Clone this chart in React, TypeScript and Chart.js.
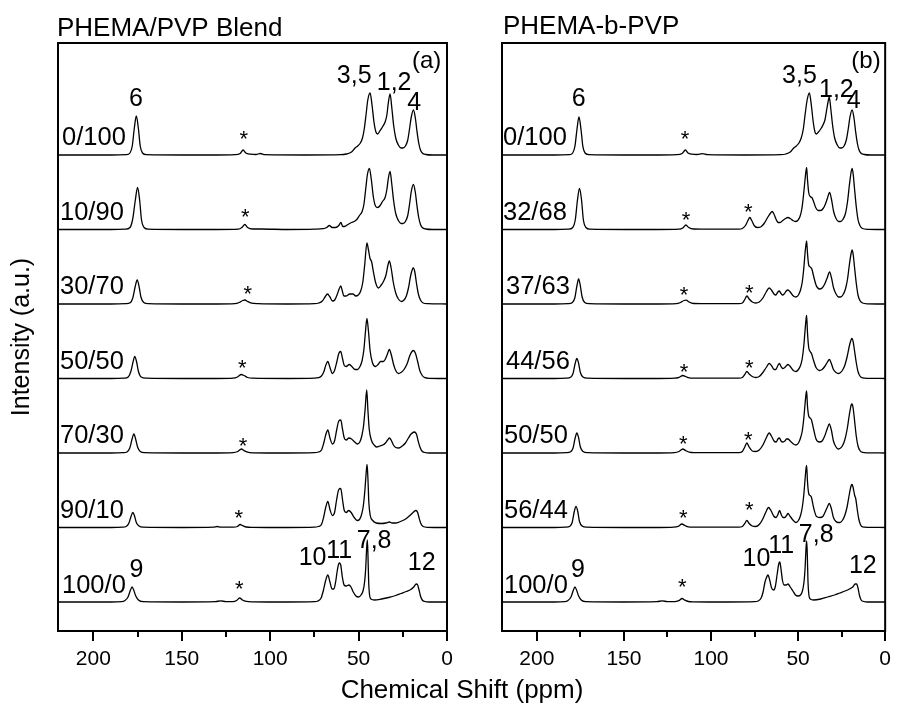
import React, { useEffect, useRef } from "react";
import { Chart, registerables } from "chart.js";
Chart.register(...registerables);

type Pt = [number, number];
const FONT = "'Liberation Sans', Arial, Helvetica, sans-serif";

// x axis (ppm)
const xMajorTicks = [200, 150, 100, 50, 0];
const xMinorTicks = [175, 125, 75, 25];

// ---------------- Panel (a): PHEMA/PVP Blend ----------------
const blendLabels = ["0/100", "10/90", "30/70", "50/50", "70/30", "90/10", "100/0"];
const blendOffsets = [476, 401.5, 327, 252.5, 178, 103.5, 29];

const blend0_100: Pt[] = [[220,0],[190,0],[181.3,0.3],[179.3,2],[178,9],[176.9,26],[175.7,39],[174.5,26],[173.5,9],[172.2,2],[170,0.3],[150,0],[130,0],[120,0.3],[117,1.5],[115.3,5],[113.8,2],[111,0.8],[108,0.5],[105.6,1.5],[103,0.3],[80,0],[60,0.3],[57,1],[54,3],[52,7],[50.5,9],[49,12],[47.8,17],[46.8,26],[45.8,40],[44.8,55],[43.5,62],[42.4,50],[41.3,33],[40.2,23],[39.2,21],[38,24],[36.5,28],[35,33],[34,40],[33.2,52],[32.2,61],[31.2,47],[30.2,30],[29,17],[27.5,10],[26,7],[25,7],[23.5,9],[22.2,15],[21.2,26],[20.2,38],[19,45],[17.9,37],[17,24],[16,12],[15,5],[14,2],[12,0.5],[8,0],[0,0]];
const blend10_90: Pt[] = [[220,0],[190,0],[181.8,0.3],[179.3,2],[177.8,10],[176.3,29],[175,42],[173.8,29],[172.8,10],[171.3,2],[169,0.3],[150,0],[130,0],[118,0.3],[116,2],[114.3,5],[112.8,2],[110,0.5],[105,0.5],[90,0],[75,0.3],[70,0.8],[68,2],[66.5,4],[65,2],[63,2],[61.2,4],[60,7],[59,3],[58,3],[56,5],[54,7],[52.5,8],[51,10],[49.5,14],[48,18],[47,25],[46,40],[45,55],[43.9,61],[42.8,50],[41.6,32],[40.3,23],[39.2,22],[37.8,24],[36.5,28],[35,32],[34,40],[33.1,52],[32.2,58],[31.2,45],[30.2,29],[29,16],[27.5,9],[26,6],[25,6],[23.5,8],[22.2,14],[21.2,25],[20.2,38],[19,45],[17.9,37],[17,24],[16,12],[15,5],[14,2],[12,0.5],[8,0],[0,0]];
const blend30_70: Pt[] = [[220,0],[190,0],[181.5,0.3],[179.2,1.2],[177.7,6],[176.4,17],[175.2,24],[174.1,17],[173.1,7],[171.5,1.5],[169,0.3],[150,0],[130,0],[120,0.3],[117.5,1.5],[115.5,3.5],[114.3,4],[112.8,2.5],[110.5,0.8],[107,0.3],[90,0],[75,0.3],[72.5,1],[70.5,3],[69,7],[67.6,10],[66.2,7],[64.8,3],[63.5,4],[62.2,9],[61,15],[60.1,18],[59.2,13],[58.3,8],[57,8],[55,10],[53.2,10],[51.6,8],[50.2,9],[48.8,13],[47.6,22],[46.5,40],[45.3,61],[44.4,54],[43.6,46],[42.6,42],[41.6,32],[40.3,21],[38.8,16],[37.2,19],[35.8,23],[34.5,29],[33.5,38],[32.6,43],[31.6,36],[30.4,22],[29,11],[27.5,5],[25.8,2.5],[24.3,4],[23,8],[21.8,16],[20.6,28],[19.5,35],[19,36],[18.2,32],[17.2,20],[16.2,10],[15,4],[13.5,1],[11,0.3],[0,0]];
const blend50_50: Pt[] = [[220,0],[190,0],[182.5,0.3],[180.3,1.5],[178.8,7],[177.5,17],[176.6,22],[175.6,17],[174.5,7],[173,1.5],[170,0.3],[150,0],[130,0],[121,0.3],[118.5,1.5],[116.3,4],[114.8,3],[112.8,1],[110,0.3],[90,0],[75,0.3],[72.8,0.8],[71,2.5],[69.6,7],[68.6,13],[67.4,17],[66.2,11],[64.8,5],[63.6,8],[62.4,16],[61.2,25],[60.1,27],[59.1,20],[58.1,13],[57,12],[55.3,14],[53.8,12],[52,9],[50.5,9],[49.2,12],[48,18],[47,29],[46.2,45],[45.3,60],[44.4,47],[43.5,28],[42.2,16],[40.5,12],[39,14],[37.5,17],[36,17],[35,19],[33.8,24],[32.6,29],[31.4,23],[30.2,14],[29,8],[27.5,5],[26,6],[24.3,9],[22.5,15],[21,23],[19.8,27],[19,28],[17.8,25],[16.6,17],[15.4,8],[14,3],[12.5,0.8],[10,0.2],[0,0]];
const blend70_30: Pt[] = [[220,0],[190,0],[183,0.3],[181,1],[179.4,5],[178.1,14],[177.1,19],[176.1,14],[175,6],[173.5,1.5],[171,0.3],[150,0],[130,0],[121,0.3],[118.3,1.5],[116.3,4],[114.9,2.5],[112.8,0.8],[110,0.2],[90,0],[75,0.3],[72.8,1],[71,3],[69.7,10],[68.6,18],[67.4,23],[66.2,15],[64.8,9],[63.6,12],[62.4,23],[61.2,32],[60.1,33],[59.1,24],[58.1,15],[57,13],[55.5,15],[54,14],[52.2,11],[50.7,9],[49.3,11],[48.2,17],[47.2,27],[46.3,44],[45.4,63],[44.7,42],[44,24],[42.8,13],[41.2,8],[39.8,6],[38,7],[36.3,8],[34.8,10],[33.6,13],[32.6,15],[31.6,13],[30.3,8],[29,5.5],[27.2,5],[25.3,7],[23.5,10],[21.8,15],[20.3,19],[18.5,21],[17.3,19],[16.3,12],[15.3,6],[14.2,2],[12.5,0.5],[10,0],[0,0]];
const blend90_10: Pt[] = [[220,0],[190,0],[183.5,0.3],[181.5,1],[180,4],[178.7,11],[177.7,15],[176.8,12],[175.7,5],[174.2,1.5],[172,0.3],[150,0],[132,0.3],[130,1],[128,0.3],[121,0.3],[118.5,1],[117,3],[115.5,1.8],[113.5,0.5],[110,0.2],[90,0],[75,0.3],[72.8,1],[71,3],[69.8,10],[68.6,20],[67.4,26],[66.2,18],[64.8,12],[63.6,15],[62.4,28],[61.2,38],[60.1,39],[59.1,28],[58.1,17],[57,15],[55.6,17],[54.2,15],[52.5,10],[50.8,7],[49.5,8],[48.3,13],[47.3,22],[46.4,38],[45.7,55],[45.2,63],[44.7,48],[44.2,25],[43.4,12],[42,7],[40,4.5],[37,4],[34.5,4.5],[32.6,5.5],[31,4.5],[29,4.5],[27,5.5],[25,7],[23,9],[21,12],[19.2,15],[17.6,17],[16.6,15],[15.7,9],[14.8,4],[13.5,1],[11,0.2],[0,0]];
const blend100_0: Pt[] = [[220,0],[190,0],[184,0.3],[182.3,1.2],[180.4,5],[179,12],[178.1,15],[177.2,12],[176,6],[174.5,2],[172,0.3],[150,0],[131,0.3],[128,1.2],[125,0.3],[121,0.3],[119,1.5],[117.3,4],[115.7,2],[113.5,0.6],[110,0.2],[90,0],[75,0.3],[73,1],[71.2,4],[70,11],[68.7,21],[67.4,27],[66.2,20],[65,13],[64,13],[62.9,21],[62,32],[61,39],[60.1,37],[59.2,25],[58.2,17],[57,16],[55.5,17],[54.3,15],[53,10],[51.5,6],[50,5],[48.6,7],[47.5,11],[46.6,20],[46,33],[45.4,55],[45.05,62],[44.7,47],[44.3,20],[43.8,7],[43,3],[41,2],[37,3],[33,4.5],[29,6.5],[26,8.5],[23,10.5],[20.5,12.5],[18.8,15],[17.4,18],[16.6,17],[15.8,12],[15,6],[14,2],[12.5,0.5],[10,0],[0,0]];
const blendTraces = [blend0_100, blend10_90, blend30_70, blend50_50, blend70_30, blend90_10, blend100_0];
const blendStarPpm = [114.9, 114.1, 112.6, 115.8, 115.4, 117.7, 117.5];

// ---------------- Panel (b): PHEMA-b-PVP ----------------
const blockLabels = ["0/100", "32/68", "37/63", "44/56", "50/50", "56/44", "100/0"];
const blockOffsets = [476, 401.5, 327, 252.5, 178, 103.5, 29];

const block0_100: Pt[] = [[220,0],[190,0],[181.3,0.3],[179.4,2],[178.1,9],[177,25],[175.8,38],[174.6,25],[173.6,9],[172.3,2],[170,0.3],[150,0],[130,0],[120,0.3],[116.6,1.5],[114.7,5],[113.2,2],[111,0.8],[108,0.5],[105,1.3],[102,0.3],[80,0],[60,0.3],[57,1],[54.5,3],[52.5,7],[51,9],[49.5,12],[48.2,17],[47,26],[46,40],[44.8,55],[43.5,62],[42.4,50],[41.3,33],[40.3,23],[39.5,21],[38.3,23],[37,26],[35.7,30],[34.6,35],[33.6,45],[32.8,53],[32.1,58],[31.2,46],[30.2,30],[29,17],[27.5,10],[26,7],[25.1,7],[23.6,9],[22.3,15],[21.2,26],[20.2,38],[19,45],[17.9,37],[17,24],[16,12],[15,5],[14,2],[12,0.5],[8,0],[0,0]];
const block32_68: Pt[] = [[220,0],[190,0],[181.8,0.3],[179.4,2],[177.9,10],[176.7,29],[175.5,41],[174.3,29],[173.3,10],[171.8,2],[169.5,0.3],[150,0],[130,0],[118.5,0.3],[116,1.8],[114.4,4.5],[112.8,2],[110,0.5],[100,0.3],[90,0.3],[84,0.3],[82,1],[80.2,4],[78.8,9],[77.7,12],[76.6,9],[75.2,4],[73.5,2],[71.5,2.5],[69.5,6],[67.5,12],[66,16],[64.9,18],[64,16],[62.6,10],[61.4,7],[60.3,7],[58.8,9],[57.2,11],[55.9,12],[54.5,11],[53,9],[51.5,8],[50.2,9],[48.9,13],[47.8,21],[46.9,34],[46,50],[45.5,58],[45.1,62],[44.6,50],[43.9,37],[43,33],[42.1,32],[41.1,28],[39.9,22],[38.5,19],[37,19],[35.6,21],[34.4,25],[33.2,31],[31.9,37],[30.8,30],[29.6,18],[28.2,11],[26.8,8],[25.6,8],[24.3,10],[22.8,16],[21.6,28],[20.5,45],[19.5,58],[19,61],[18.4,56],[17.6,41],[16.6,23],[15.6,10],[14.5,4],[13,1],[10,0.2],[0,0]];
const block37_63: Pt[] = [[220,0],[190,0],[182,0.3],[179.6,1.5],[178.2,6],[177,18],[176,25],[175,18],[174,7],[172.5,1.5],[170,0.3],[150,0],[130,0],[120,0.3],[117.5,1.5],[115.5,3.5],[114.2,3.8],[112.6,2],[110,0.5],[100,0.3],[90,0.3],[84,0.3],[82,1],[80.6,4.5],[79.4,8],[78.1,5],[76.3,2],[74.3,1],[72.3,2],[70.2,6],[68.3,12],[66.6,16],[65.3,14],[63.8,10],[62.8,9],[61.6,12],[60.8,13],[60,11],[59,9],[58,10],[56.8,13],[55.8,14],[54.5,12],[52.7,8],[51.2,7],[49.8,9],[48.6,14],[47.6,22],[46.7,36],[46,51],[45.5,59],[45.1,63],[44.6,51],[43.9,39],[43,37],[42.1,35],[41.1,28],[39.7,19],[37.8,15],[36.2,16],[34.7,20],[33.3,26],[31.9,32],[30.8,26],[29.6,16],[28.2,10],[26.8,7],[25.6,7],[24.3,9],[22.8,15],[21.6,25],[20.5,40],[19.5,51],[19,54],[18.4,50],[17.6,37],[16.6,21],[15.6,9],[14.5,3.5],[13,1],[10,0.2],[0,0]];
const block44_56: Pt[] = [[220,0],[190,0],[183,0.3],[180.6,1.3],[179.2,5],[178,15],[177,20],[176,15],[175,6],[173.5,1.5],[171,0.3],[150,0],[130,0],[121,0.3],[118.3,1.2],[116.2,3],[114.6,2],[112.5,0.6],[110,0.3],[100,0.3],[90,0.3],[84,0.3],[82,1],[80.6,4],[79.4,7],[78.1,4.5],[76.3,2],[74.3,1],[72.3,2],[70.2,6],[68.3,11],[66.6,15],[65.3,13],[63.8,9],[62.8,9],[61.6,13],[60.7,15],[59.8,12],[58.7,10],[57.6,11],[56.6,13],[55.8,14],[54.5,12],[52.7,8],[51.2,7],[49.8,9],[48.6,13],[47.6,20],[46.7,33],[46,48],[45.5,58],[45.1,63],[44.6,46],[43.9,31],[43.1,27],[42.3,25],[41.1,18],[39.7,11],[37.8,8],[36.2,9],[34.7,12],[33.3,16],[32,19],[30.9,15],[29.7,9],[28.2,6],[27,5],[26,5.5],[24.6,8],[23.2,13],[21.8,22],[20.5,33],[19.5,39],[19,40],[18.4,37],[17.6,28],[16.6,16],[15.6,7],[14.5,2.5],[13,0.6],[10,0.2],[0,0]];
const block50_50: Pt[] = [[220,0],[190,0],[183,0.3],[180.6,1.3],[179.2,5],[178,15],[177,20],[176,15],[175,6],[173.5,1.5],[171,0.3],[150,0],[130,0],[121,0.3],[118.3,1.5],[116.2,4],[114.6,2.5],[112.5,0.8],[110,0.3],[100,0.3],[90,0.3],[84,0.3],[82,1.5],[80.6,6],[79.4,10],[78.1,6],[76.3,2],[74.3,1.5],[72.3,3],[70.2,8],[68.3,15],[66.6,20],[65.3,17],[63.8,12],[62.6,11],[61.6,14],[60.7,15],[59.8,12],[58.7,11],[57.6,12],[56.6,14],[55.8,14],[54.5,12],[52.7,9],[51.2,8],[49.8,10],[48.6,15],[47.6,22],[46.7,35],[46,49],[45.5,58],[45.1,62],[44.6,47],[43.9,37],[43.1,35],[42.3,33],[41.1,24],[39.7,14],[37.8,11],[36.2,12],[34.7,17],[33.3,24],[32.1,29],[30.9,23],[29.7,12],[28.2,6],[27,4],[26,4.5],[24.6,7],[23.2,13],[21.8,24],[20.5,39],[19.5,48],[19,49],[18.4,45],[17.6,33],[16.6,17],[15.6,7],[14.5,2.5],[13,0.6],[10,0.2],[0,0]];
const block56_44: Pt[] = [[220,0],[190,0],[183.5,0.3],[181,1.3],[179.7,5],[178.5,16],[177.5,21],[176.5,16],[175.5,6],[174,1.5],[171.5,0.3],[150,0],[130,0],[121.5,0.3],[118.8,1.2],[116.7,3.5],[115,2],[113,0.6],[110,0.3],[100,0.3],[90,0.3],[84,0.3],[82,1],[80.6,4],[79.4,7],[78.1,4],[76.3,1.5],[74.3,1],[72.3,3],[70.4,8],[68.6,15],[67,20],[65.6,17],[63.8,11],[62.6,10],[61.6,13],[60.6,17],[59.7,13],[58.6,10],[57.6,10],[56.6,12],[55.8,14],[54.5,11],[52.7,7],[51.2,5],[49.8,7],[48.6,12],[47.6,20],[46.7,33],[46,48],[45.5,58],[45.1,62],[44.6,46],[43.9,34],[43.1,32],[42.3,30],[41.1,20],[39.4,11],[37.4,10],[35.8,11],[34.6,15],[33.3,20],[32.1,24],[30.9,19],[29.7,10],[28.2,6],[27,5],[26,5],[24.6,7],[23.2,12],[21.8,21],[20.5,34],[19.5,42],[19,43],[18.4,40],[17.5,32],[16.9,29],[16.1,19],[15.2,9],[14.2,3],[13,0.6],[10,0.2],[0,0]];
const block100_0: Pt[] = [[220,0],[190,0],[184,0.3],[182.3,1.2],[180.4,5],[179,12],[178.1,15],[177.2,12],[176,6],[174.5,2],[172,0.3],[150,0],[131,0.3],[128,1.2],[125,0.3],[121,0.3],[118.5,1.3],[116.6,3.5],[115,1.8],[113,0.5],[110,0.2],[90,0],[75,0.3],[73,1],[71.2,4],[70.1,10],[69,20],[68,25],[67.3,27],[66.3,22],[65.2,14],[64,12],[63,16],[62,28],[61.1,38],[60.5,40],[59.8,33],[59,22],[58,17],[56.8,17],[55.8,18],[54.5,15],[53,11],[51.5,7],[50,6],[48.6,7],[47.5,11],[46.6,20],[46,33],[45.4,55],[45.05,61],[44.7,47],[44.3,20],[43.8,7],[43,3],[41,2],[37,3],[33,5],[29,7],[26,9],[23,11],[20.5,13],[18.6,15],[17.2,18],[16.4,18],[15.6,14],[14.8,7],[13.8,2],[12.3,0.5],[10,0],[0,0]];
const blockTraces = [block0_100, block32_68, block37_63, block44_56, block50_50, block56_44, block100_0];
const blockStarPpm = [114.9, 114.4, 115.5, 115.5, 115.9, 115.9, 116.5];
const blockStar2Ppm = [null, 78.6, 78, 78, 78.6, 78, null];

// peak assignments: [text, ppm, intensity-axis value]
const blendPeakLabels: [string, number, number][] = [["6",175.9,525],["3,5",52.5,547.7],["1,2",29.9,541],["4",18.6,521],["9",175.7,54],["10",76,66],["11",61,72.7],["7,8",41.2,82.7],["12",14.3,61]];
const blockPeakLabels: [string, number, number][] = [["6",176,525],["3,5",49.2,547.7],["1,2",28,534.3],["4",18,522.7],["9",176.4,54.3],["10",73.9,65],["11",59.7,77.7],["7,8",39.6,89.3],["12",12.8,57.7]];

interface Layout {
  padLeft: number;
  padRight: number;
  panelTag: string;
  tagPpm: number;
  tagVal: number;
  title: string;
  titleX: number;
  titleY: number;
  labelDx: number[];
  labelRise: number[];
  starRise: number[];
  star2Rise: (number | null)[];
  shared: boolean;
}

const W = 897;
const H = 704;

function makeChart(
  canvas: HTMLCanvasElement,
  traces: Pt[][],
  offsets: number[],
  labels: string[],
  starPpm: number[],
  star2Ppm: (number | null)[],
  peakLabels: [string, number, number][],
  L: Layout
) {
  const decor = {
    id: "decor",
    afterDraw(chart: any) {
      const ctx = chart.ctx as CanvasRenderingContext2D;
      const a = chart.chartArea;
      const xs = chart.scales.x;
      const ys = chart.scales.y;
      ctx.save();
      ctx.strokeStyle = "#000";
      ctx.lineWidth = 2;
      ctx.strokeRect(a.left, a.top, a.right - a.left, a.bottom - a.top);
      for (const v of xMinorTicks) {
        const px = Math.round(xs.getPixelForValue(v));
        ctx.beginPath();
        ctx.moveTo(px, a.bottom);
        ctx.lineTo(px, a.bottom + 6);
        ctx.stroke();
      }
      ctx.fillStyle = "#000";
      ctx.textBaseline = "alphabetic";
      // trace labels
      ctx.font = `25.5px ${FONT}`;
      ctx.textAlign = "left";
      labels.forEach((t, i) => {
        ctx.fillText(t, a.left + L.labelDx[i], ys.getPixelForValue(offsets[i]) - L.labelRise[i]);
      });
      // peak labels
      ctx.textAlign = "center";
      ctx.font = `25px ${FONT}`;
      for (const [t, ppm, v] of peakLabels) {
        ctx.fillText(t, xs.getPixelForValue(ppm), ys.getPixelForValue(v));
      }
      ctx.font = `24px ${FONT}`;
      ctx.fillText(L.panelTag, xs.getPixelForValue(L.tagPpm), ys.getPixelForValue(L.tagVal));
      // spinning side band markers
      ctx.font = `22px ${FONT}`;
      starPpm.forEach((p, i) => {
        ctx.fillText("*", xs.getPixelForValue(p), ys.getPixelForValue(offsets[i]) - L.starRise[i] + 12.5);
      });
      star2Ppm.forEach((p, i) => {
        const r = L.star2Rise[i];
        if (p == null || r == null) return;
        ctx.fillText("*", xs.getPixelForValue(p), ys.getPixelForValue(offsets[i]) - r + 12.5);
      });
      // panel title
      ctx.font = `26px ${FONT}`;
      ctx.textAlign = "left";
      ctx.fillText(L.title, L.titleX, L.titleY);
      if (L.shared) {
        ctx.textAlign = "center";
        ctx.font = `26px ${FONT}`;
        ctx.fillText("Chemical Shift (ppm)", 462, 698);
        ctx.save();
        ctx.translate(29, 337);
        ctx.rotate(-Math.PI / 2);
        ctx.font = `25px ${FONT}`;
        ctx.fillText("Intensity (a.u.)", 0, 0);
        ctx.restore();
      }
      ctx.restore();
    },
  };

  return new Chart(canvas, {
    type: "line",
    data: {
      datasets: traces.map((t, i) => ({
        label: labels[i],
        data: t.map(([x, y]) => ({ x, y: y + offsets[i] })),
        borderColor: "#000",
        borderWidth: 1.3,
        pointRadius: 0,
        fill: false,
        cubicInterpolationMode: "monotone" as const,
      })),
    },
    options: {
      animation: false,
      responsive: false,
      maintainAspectRatio: false,
      events: [],
      layout: { padding: { left: L.padLeft, right: L.padRight, top: 43, bottom: 13 } },
      plugins: { legend: { display: false }, tooltip: { enabled: false }, title: { display: false } },
      scales: {
        x: {
          type: "linear",
          reverse: true,
          min: 0,
          max: 220,
          afterBuildTicks: (s: any) => {
            s.ticks = xMajorTicks.map((v) => ({ value: v }));
          },
          afterFit: (s: any) => {
            s.height = 60;
          },
          grid: { drawOnChartArea: false, drawTicks: true, tickLength: 10, color: "#000", tickWidth: 2, lineWidth: 2 },
          border: { display: false },
          ticks: { color: "#000", font: { family: FONT, size: 21 }, padding: 6, maxRotation: 0, autoSkip: false },
        },
        y: { display: false, min: 0, max: 588 },
      },
    },
    plugins: [decor],
  } as any);
}

export default function App() {
  const leftRef = useRef<HTMLCanvasElement>(null);
  const rightRef = useRef<HTMLCanvasElement>(null);

  useEffect(() => {
    const c1 = makeChart(leftRef.current!, blendTraces, blendOffsets, blendLabels, blendStarPpm, blendStarPpm.map(() => null), blendPeakLabels, {
      padLeft: 58,
      padRight: W - 447,
      panelTag: "(a)",
      tagPpm: 11.5,
      tagVal: 563,
      title: "PHEMA/PVP Blend",
      titleX: 57,
      titleY: 36,
      labelDx: [4, 2, 2, 2, 2, 2, 4],
      labelRise: [10, 10, 10, 10, 10, 10, 9],
      starRise: [22, 18, 16, 16, 13, 15, 19],
      star2Rise: [null, null, null, null, null, null, null],
      shared: true,
    });
    const c2 = makeChart(rightRef.current!, blockTraces, blockOffsets, blockLabels, blockStarPpm, blockStar2Ppm, blockPeakLabels, {
      padLeft: 502,
      padRight: W - 889,
      panelTag: "(b)",
      tagPpm: 11,
      tagVal: 563,
      title: "PHEMA-b-PVP",
      titleX: 503,
      titleY: 34,
      labelDx: [1, 1, 4, 4, 2, 2, 2],
      labelRise: [10, 10, 10, 10, 10, 10, 9],
      starRise: [21.5, 15.5, 15, 12.5, 15, 15, 20.8],
      star2Rise: [null, 22.6, 17, 15.6, 18.7, 23.4, null],
      shared: false,
    });
    return () => {
      c1.destroy();
      c2.destroy();
    };
  }, []);

  const cs: React.CSSProperties = { position: "absolute", left: 0, top: 0, width: W, height: H };
  return (
    <div style={{ position: "absolute", left: 0, top: 0, width: W, height: H, background: "#fff" }}>
      <canvas ref={leftRef} width={W} height={H} style={cs} />
      <canvas ref={rightRef} width={W} height={H} style={cs} />
    </div>
  );
}
